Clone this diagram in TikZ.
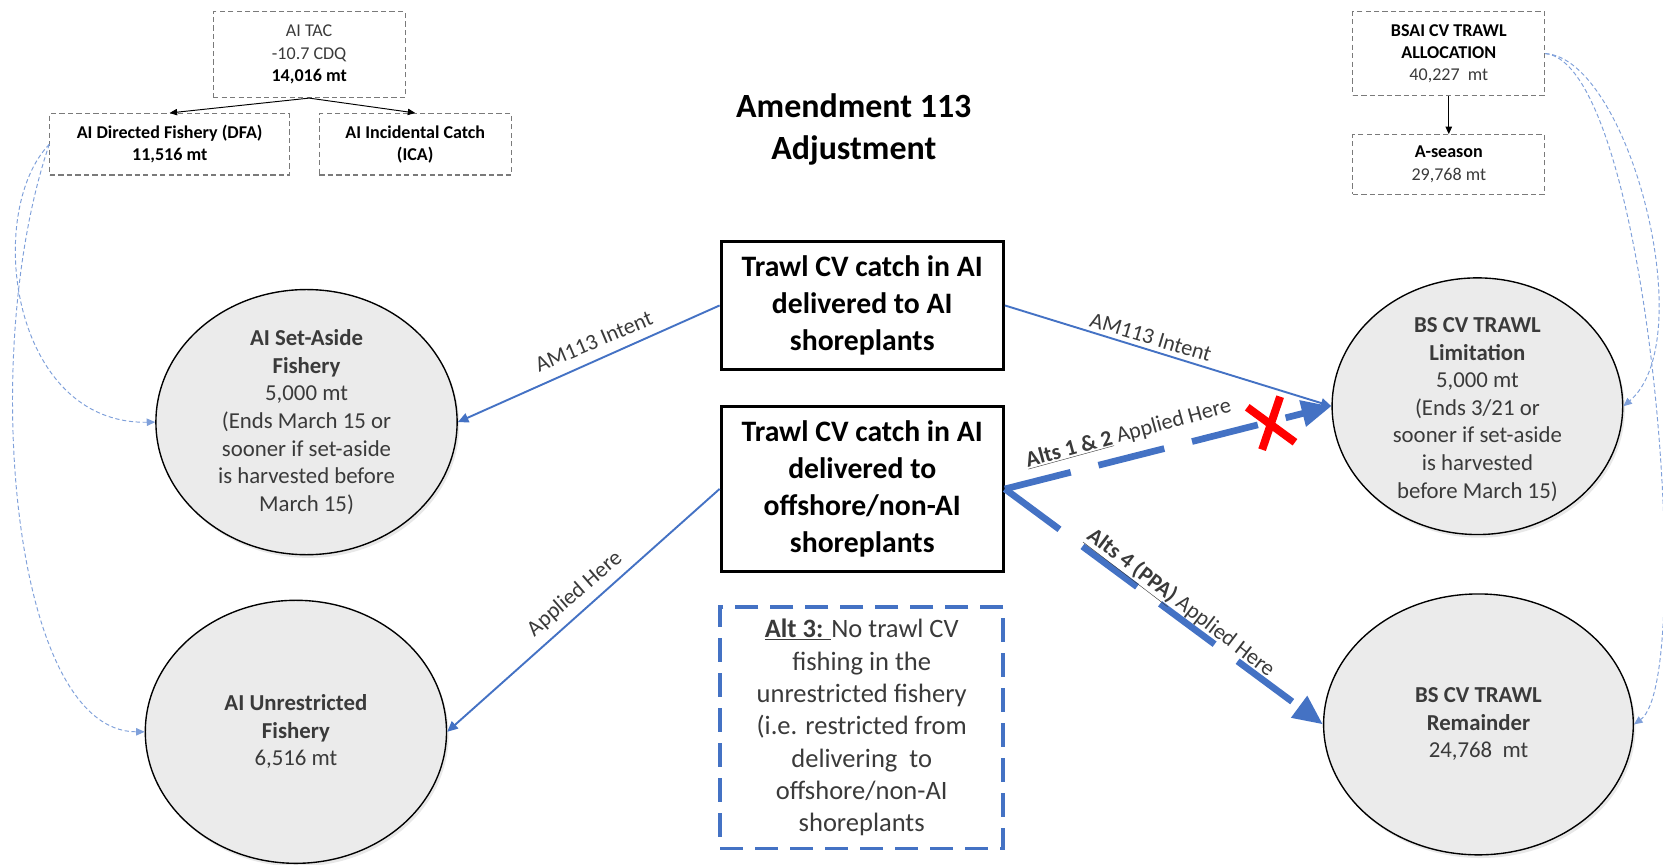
\documentclass[tikz,border=0pt]{standalone}
\usepackage{fontspec}
\setmainfont{Carlito}
\usetikzlibrary{arrows.meta,shapes.geometric,shadows}
\definecolor{officeblue}{HTML}{4472C4}
\definecolor{curveblue}{HTML}{7FA0DA}
\definecolor{circfill}{HTML}{EBEBEB}
\definecolor{txtgray}{HTML}{3A3A3A}
\definecolor{boxgray}{HTML}{7A7A7A}
\begin{document}
\begin{tikzpicture}[x=1pt,y=-1pt,
  smallbox/.style={draw=boxgray, line width=1pt, dash pattern=on 5pt off 3pt, align=center, inner sep=0pt,
    font=\fontsize{17}{21}\selectfont, text=txtgray},
  mainbox/.style={draw=black, line width=3pt, align=center, inner sep=0pt,
    font=\bfseries\fontsize{28}{35}\selectfont, minimum width=266},
  altbox/.style={draw=officeblue, line width=3.5pt, dash pattern=on 22pt off 11pt, align=center, inner sep=0pt,
    font=\fontsize{25}{30.5}\selectfont, text=txtgray},
  circ/.style={ellipse, draw=black, line width=1.3pt, fill=circfill, inner sep=0pt,
    drop shadow={shadow xshift=2pt, shadow yshift=-3pt, opacity=0.18}},
  circtext/.style={align=center, font=\fontsize{21.5}{26}\selectfont, text=txtgray, inner sep=0pt},
  blackarrow/.style={draw=black, line width=0.9pt, -{Triangle[length=7pt,width=6pt]}},
  bluearrow/.style={draw=officeblue, line width=1.8pt, -{Triangle[length=10pt,width=9pt]}},
  thickdash/.style={draw=officeblue, line width=6.3pt, dash pattern=on 64pt off 27pt, -{Triangle[length=28pt,width=24pt]}},
  curvearrow/.style={draw=curveblue, line width=0.9pt, dash pattern=on 4pt off 2.5pt, -{Triangle[length=8pt,width=7pt]}},
  redx/.style={draw=red, line width=7.5pt},
  elabel/.style={font=\fontsize{21}{25}\selectfont, text=txtgray, inner sep=0pt}
]
\useasboundingbox (0,0) rectangle (1568,815);

% top left boxes
\node[smallbox, minimum width=181, minimum height=81] (tac) at (291.5,51.5)
  {AI TAC\\-10.7 CDQ\\{\color{black}\textbf{14,016 mt}}};
\node[smallbox, minimum width=226, minimum height=58] (dfa) at (160,136)
  {{\color{black}\textbf{AI Directed Fishery (DFA)}}\\{\color{black}\textbf{11,516 mt}}};
\node[smallbox, minimum width=181, minimum height=58] (ica) at (391.5,136)
  {{\color{black}\textbf{AI Incidental Catch}}\\{\color{black}\textbf{(ICA)}}};
\draw[blackarrow] (tac.south) -- (dfa.north);
\draw[blackarrow] (tac.south) -- (ica.north);

% top right boxes
\node[smallbox, minimum width=181, minimum height=79] (bsai) at (1366,50.5)
  {{\color{black}\textbf{BSAI CV TRAWL}}\\{\color{black}\textbf{ALLOCATION}}\\40,227~ mt};
\node[smallbox, minimum width=181, minimum height=56] (aseas) at (1366,155)
  {{\color{black}\textbf{A-season}}\\29,768 mt};
\draw[blackarrow] (bsai.south) -- (aseas.north);

% title
\node[font=\bfseries\fontsize{32}{39}\selectfont, align=center] (title) at (805,122) {Amendment 113\\Adjustment};

% central boxes
\node[mainbox, minimum height=120] (b1) at (813,288) {Trawl CV catch in AI\\delivered to AI\\shoreplants};
\node[mainbox, minimum height=156] (b2) at (813,461) {Trawl CV catch in AI\\delivered to\\offshore/non-AI\\shoreplants};
\node[altbox, minimum width=267, minimum height=228] (alt) at (812.5,686)
  {\underline{\textbf{Alt 3:} }No trawl CV\\fishing in the\\unrestricted fishery\\(i.e. restricted from\\delivering~ to\\offshore/non-AI\\shoreplants};

% circles
\node[circ, minimum width=284, minimum height=250] (sa) at (289,398) {};
\node[circtext] (sat) at (sa.center) {\textbf{AI Set-Aside}\\\textbf{Fishery}\\5,000 mt\\(Ends March 15 or\\sooner if set-aside\\is harvested before\\March 15)};
\node[circ, minimum width=284, minimum height=248] (un) at (279,690) {};
\node[circtext] (unt) at (un.center) {\textbf{AI Unrestricted}\\\textbf{Fishery}\\6,516 mt};
\node[circ, minimum width=274, minimum height=242] (lim) at (1393,383) {};
\node[circtext] (limt) at ([yshift=-3pt]lim.center) {\textbf{BS CV TRAWL}\\\textbf{Limitation}\\5,000 mt\\(Ends 3/21 or\\sooner if set-aside\\is harvested\\before March 15)};
\node[circ, minimum width=292, minimum height=246] (rem) at (1394,683) {};
\node[circtext] (remt) at (rem.center) {\textbf{BS CV TRAWL}\\\textbf{Remainder}\\24,768~ mt};

% dashed curves
\draw[curvearrow] (dfa.west) .. controls (-15,200) and (10,400) .. (sa.west);
\draw[curvearrow] (dfa.west) .. controls (-20,330) and (10,690) .. (un.west);
\draw[curvearrow] (bsai.east) .. controls (1535,55) and (1605,320) .. (lim.east);
\draw[curvearrow] (bsai.east) .. controls (1555,60) and (1600,640) .. (rem.east);

% blue connectors
\draw[bluearrow] (b1.west) -- (sa.east);
\draw[bluearrow] (b1.east) -- (lim.west);
\draw[bluearrow] (b2.west) -- (un.east);
\draw[thickdash] (b2.east) -- (lim.west);
\draw[thickdash] (b2.east) -- (rem.west);

% red X
\draw[redx] (1176,384) -- (1221,417);
\draw[redx] (1207,374) -- (1190,424);

% labels
\node[elabel, rotate=23] (l1) at (560,322) {AM113 Intent};
\node[elabel, rotate=-16.7] (l2) at (1085,318) {AM113 Intent};
\node[elabel, rotate=41] (l3) at (542,560) {Applied Here};
\node[elabel, rotate=15.3] (l4) at (1064,409) {\underline{\textbf{Alts 1 \& 2}} Applied Here};
\node[elabel, rotate=-37.4] (l5) at (1113,569) {\underline{\textbf{Alts 4 (PPA)}} Applied Here};
\end{tikzpicture}
\end{document}
